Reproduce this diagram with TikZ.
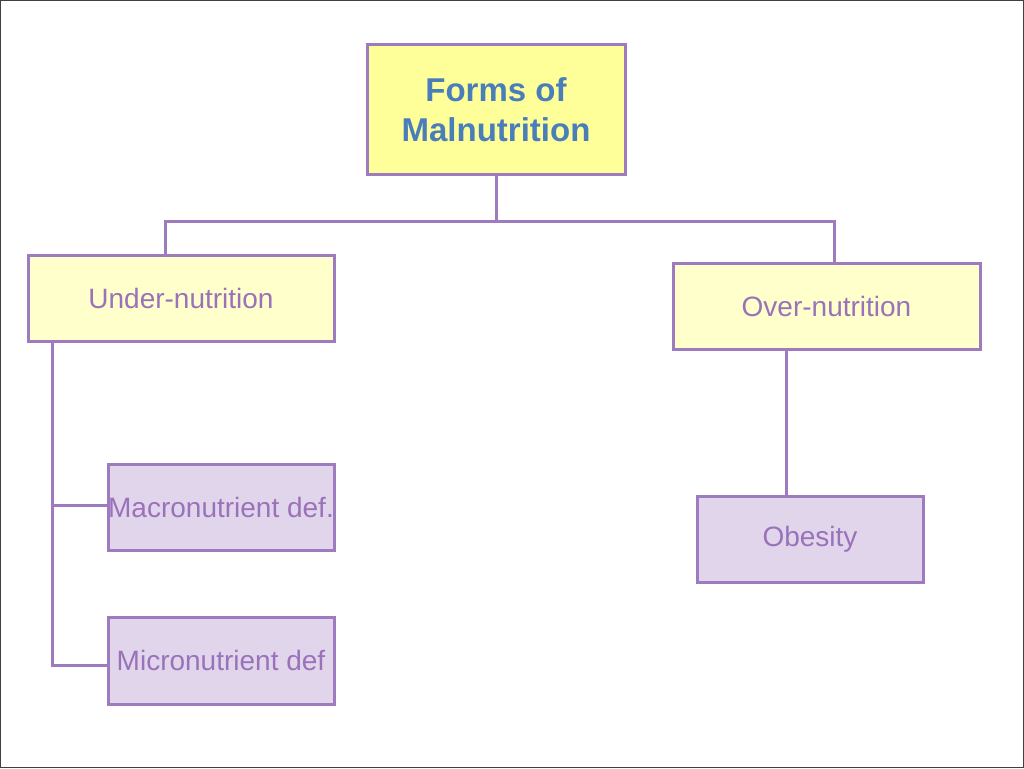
\documentclass[tikz,border=0pt]{standalone}
\usepackage{fontspec}
\setmainfont{Liberation Sans}
\definecolor{lineP}{HTML}{9E7BBF}
\definecolor{textP}{HTML}{9A72BA}
\definecolor{fillY}{HTML}{FFFF99}
\definecolor{fillLY}{HTML}{FFFFCC}
\definecolor{fillL}{HTML}{E1D5EC}
\definecolor{titleB}{HTML}{4A7EBB}
\begin{document}
\begin{tikzpicture}[x=1pt,y=-1pt,
  box/.style={draw=lineP, line width=3pt, rectangle, inner sep=0pt, align=center},
  lvl1/.style={box, fill=fillLY, minimum height=86pt, text=textP, font=\fontsize{28}{34}\selectfont},
  lvl2/.style={box, fill=fillL, minimum width=226pt, minimum height=86pt, text=textP, font=\fontsize{28}{34}\selectfont},
  conn/.style={draw=lineP, line width=3pt}]
\useasboundingbox (0,0) rectangle (1024,768);
\fill[white] (0,0) rectangle (1024,768);
\draw[black!75, line width=1.2pt] (0.6,0.6) rectangle (1023.4,767.4);

\node[box, fill=fillY, minimum width=258pt, minimum height=129pt, text=titleB,
  font=\fontsize{33}{40}\selectfont\bfseries] (top) at (496,109.5) {Forms of\\Malnutrition};
\node[lvl1, minimum width=306pt] (under) at (181,298) {Under-nutrition};
\node[lvl1, minimum width=307pt] (over) at (826.5,306) {Over-nutrition};
\node[lvl2] (macro) at (221,507) {Macronutrient def.};
\node[lvl2, minimum height=87pt] (micro) at (221,660.5) {Micronutrient def};
\node[lvl2] (obes) at (810,539) {Obesity};

\coordinate (hb) at (496,221);
\coordinate (hl) at (165,221);
\coordinate (hr) at (834,221);
\coordinate (sp) at (52,0);
\coordinate (ob) at (786,0);

\draw[conn] (top.south) -- (hb);
\draw[conn] (hl |- under.north) -- (hl) -- (hr) -- (hr |- over.north);
\draw[conn] (sp |- under.south) -- (52,665) -- (micro.west |- 0,665);
\draw[conn] (sp |- 0,505) -- (macro.west |- 0,505);
\draw[conn] (ob |- over.south) -- (ob |- obes.north);
\end{tikzpicture}
\end{document}
